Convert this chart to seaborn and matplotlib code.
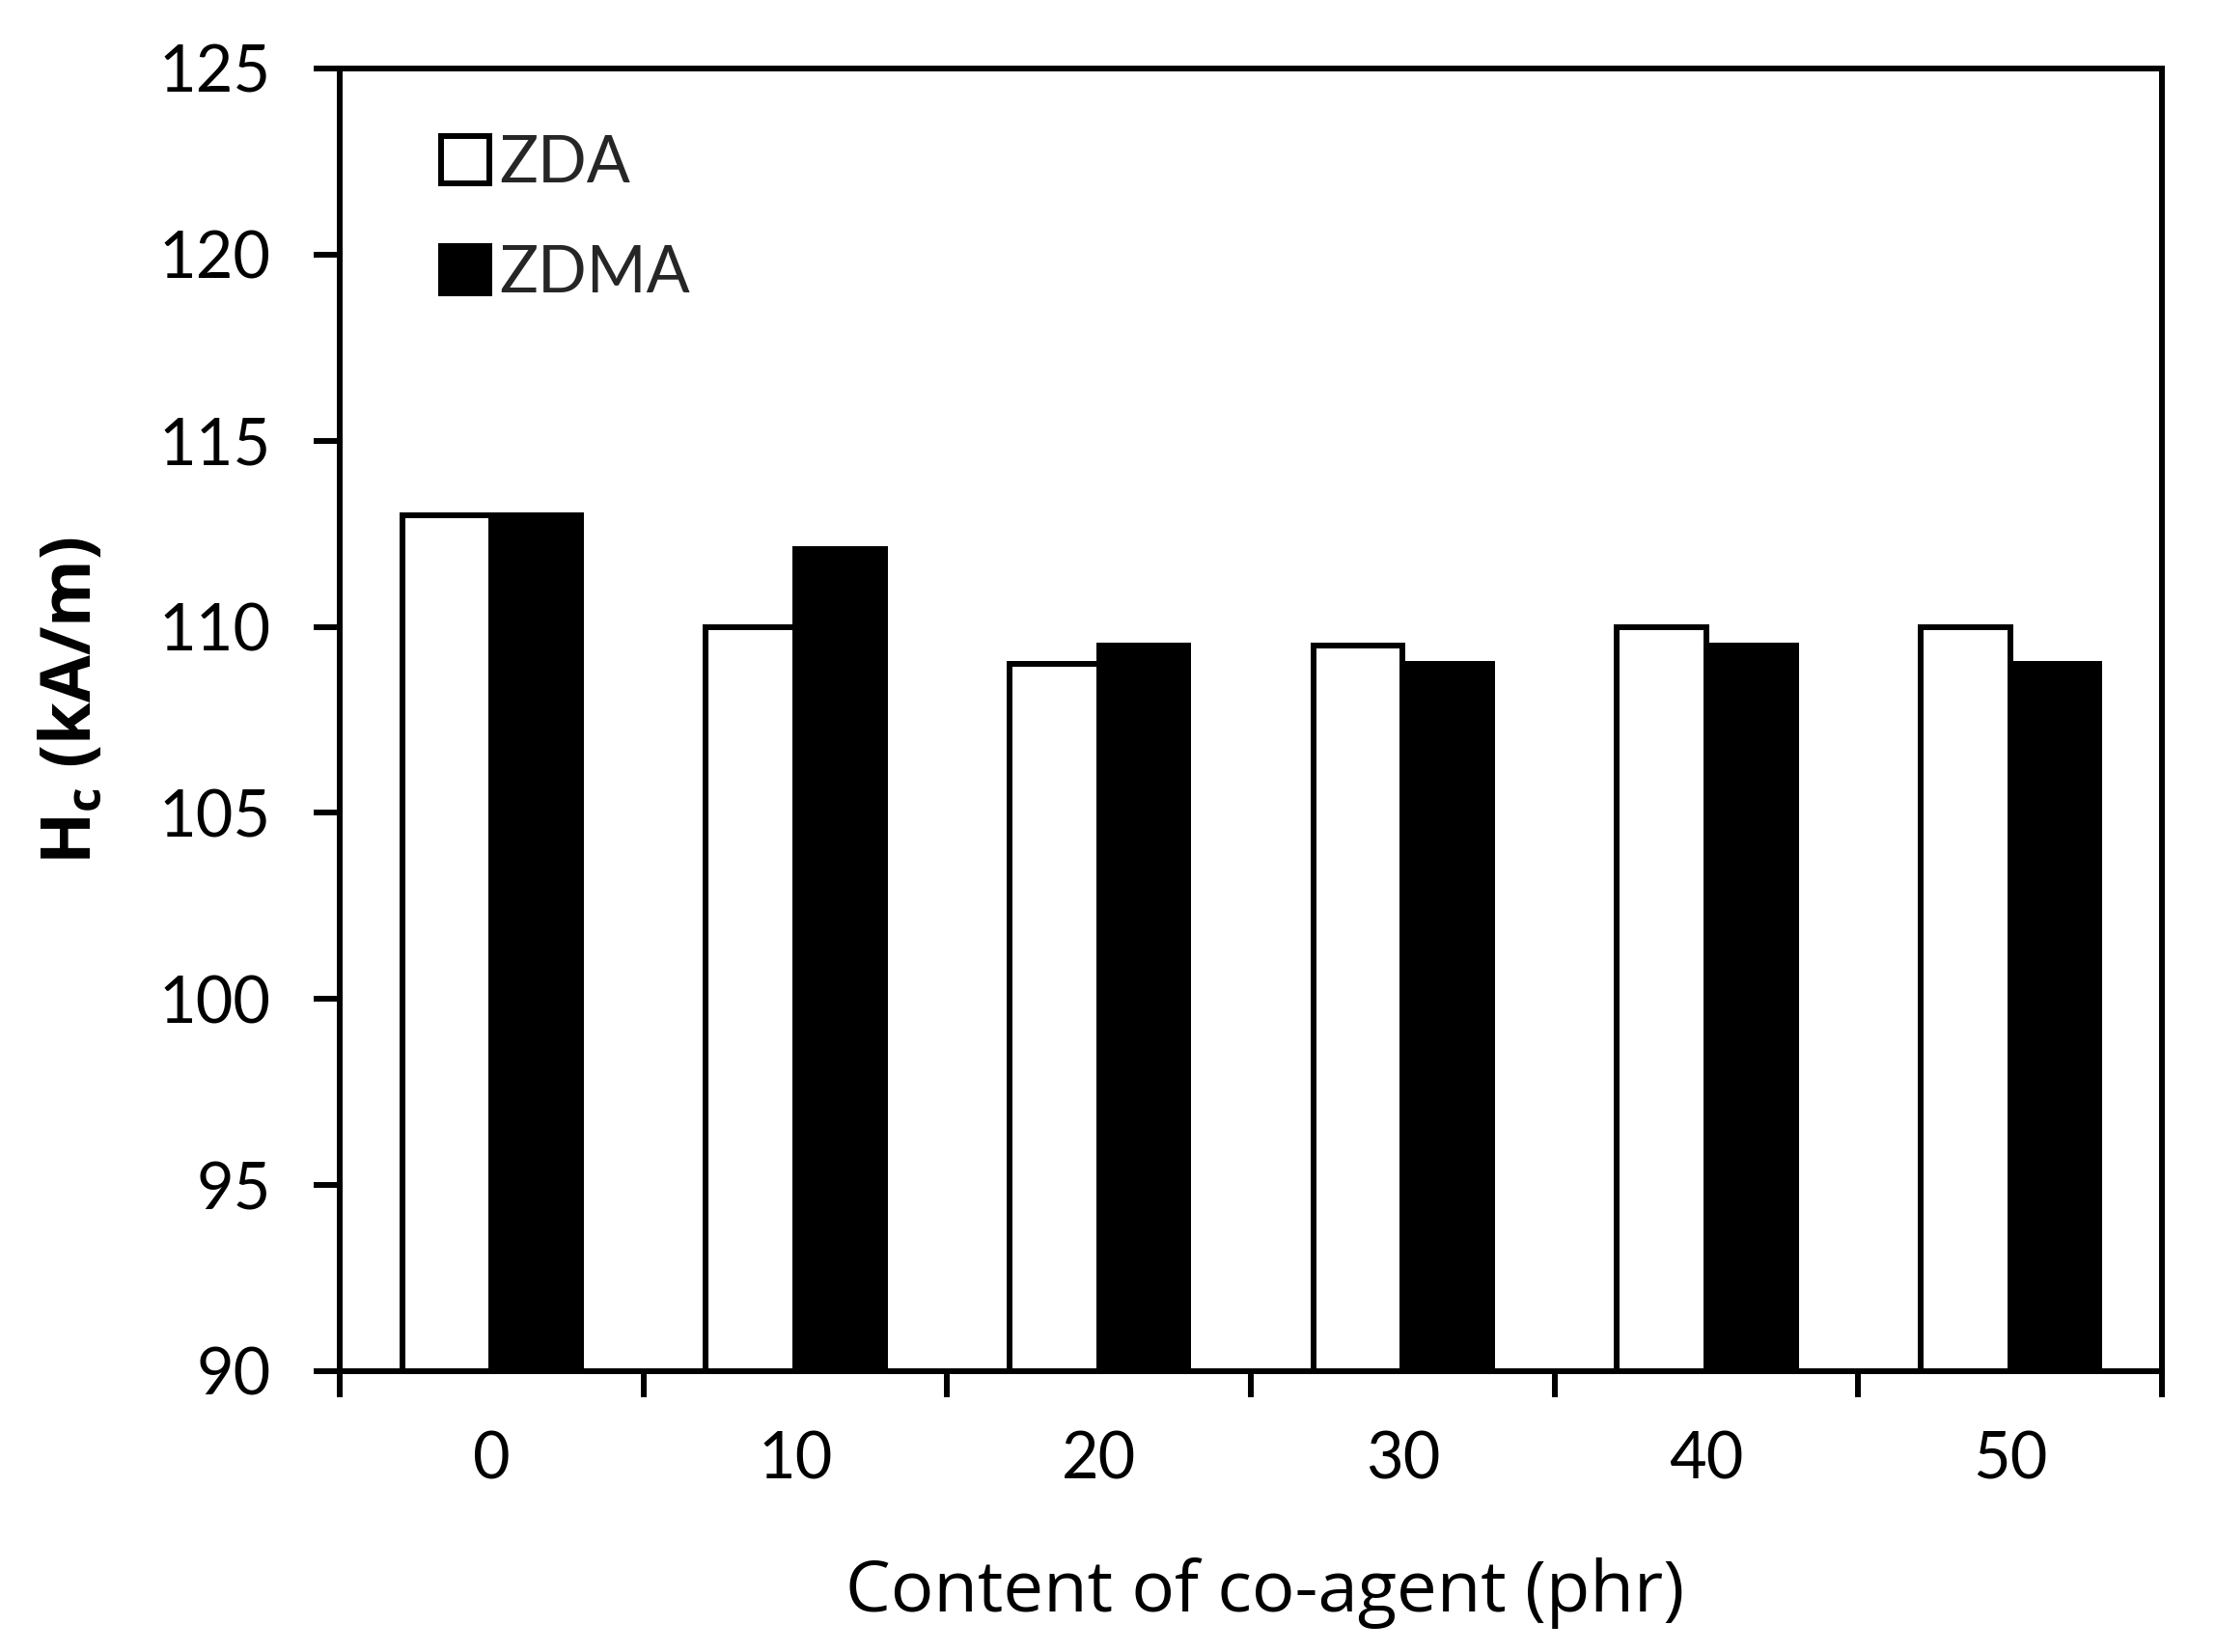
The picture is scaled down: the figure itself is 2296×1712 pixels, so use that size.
import matplotlib
matplotlib.use("Agg")
import matplotlib.pyplot as plt
import matplotlib.patches as mpatches
import numpy as np
import pandas as pd
import seaborn as sns

# values
content = ["0", "10", "20", "30", "40", "50"]
zda = [113, 110, 109, 109.5, 110, 110]
zdma = [113, 112.1, 109.5, 109, 109.5, 109]
series_names = ["ZDA", "ZDMA"]
series_colors = {"ZDA": "white", "ZDMA": "black"}
yticks = [90, 95, 100, 105, 110, 115, 120, 125]

df = pd.DataFrame({
    "content": content * 2,
    "hc": zda + zdma,
    "series": ["ZDA"] * len(content) + ["ZDMA"] * len(content),
})

sns.set_style("ticks")
plt.rcParams["font.family"] = ["Lato", "DejaVu Sans"]

fs = 48
lw = 4.3

fig = plt.figure(figsize=(22.96, 17.12), dpi=100)
ax = fig.add_axes([352 / 2296, 1 - 1421 / 1712, 1888 / 2296, 1350 / 1712])

sns.barplot(data=df, x="content", y="hc", hue="series", order=content,
            hue_order=series_names, palette=series_colors, edgecolor="black",
            linewidth=lw, width=0.59, gap=0, legend=False, ax=ax)

ax.set_ylim(90, 125)
ax.set_yticks(yticks)
ax.set_xlim(-0.5, len(content) - 0.5)

# tick marks between categories, labels in the middle
ax.set_xticks(np.arange(len(content) + 1) - 0.5)
ax.set_xticklabels([])
ax.set_xticks(np.arange(len(content)), minor=True)
ax.set_xticklabels(content, minor=True)
ax.tick_params(axis="x", which="major", direction="out", length=19.4,
               width=lw, color="black")
ax.tick_params(axis="x", which="minor", length=0, pad=44, labelsize=fs,
               labelcolor="black")
ax.tick_params(axis="y", direction="out", length=19.4, width=lw,
               pad=32, labelsize=fs, color="black", labelcolor="black")

for side in ["left", "right", "top", "bottom"]:
    ax.spines[side].set_visible(True)
    ax.spines[side].set_linewidth(lw)
    ax.spines[side].set_color("black")

ax.set_xlabel("Content of co-agent (phr)", fontsize=53.5, color="black",
              family=["Open Sans", "DejaVu Sans"])
ax.xaxis.set_label_coords(0.508, -0.143)
ax.set_ylabel(r"H$_\mathregular{c}$ (kA/m)", fontsize=51, fontweight="bold",
              color="black", family=["Open Sans", "DejaVu Sans"])
ax.yaxis.set_label_coords(-0.128, 0.515)

handles = [mpatches.Patch(facecolor=series_colors[s], edgecolor="black",
                          linewidth=lw) for s in series_names]
ax.legend(handles, series_names, loc="upper left",
          bbox_to_anchor=(0.0556, 0.950), borderaxespad=0, borderpad=0,
          frameon=False, fontsize=fs, handlelength=0.75, handleheight=0.75,
          handletextpad=0.15, labelspacing=0.78)

fig.savefig("out.png", dpi=100, facecolor="white")
